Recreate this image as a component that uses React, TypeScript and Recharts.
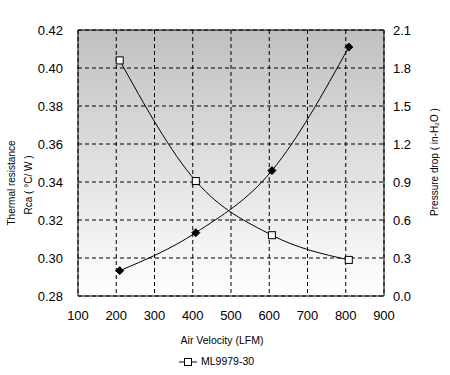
import React from "react";
import {
  LineChart,
  Line,
  XAxis,
  YAxis,
  CartesianGrid,
  ReferenceLine,
} from "recharts";

const velocity = [209, 408, 607, 808];
const resistance = [0.404, 0.3405, 0.312, 0.299];
const pressure = [0.2, 0.5, 0.99, 1.965];

const xTicks = [100, 200, 300, 400, 500, 600, 700, 800, 900];
const leftTicks = [0.28, 0.3, 0.32, 0.34, 0.36, 0.38, 0.4, 0.42];
const rightTicks = [0, 0.3, 0.6, 0.9, 1.2, 1.5, 1.8, 2.1];

const seriesName = "ML9979-30";

const data = velocity.map((v, i) => ({
  velocity: v,
  resistance: resistance[i],
  pressure: pressure[i],
}));

const FONT = "'Liberation Sans', Arial, sans-serif";

const SquareDot = (props: any) => {
  const { cx, cy } = props;
  if (cx == null || cy == null) return null;
  return (
    <rect x={cx - 3.5} y={cy - 3.5} width={7} height={7} fill="#fff" stroke="#000" strokeWidth={1} />
  );
};

const DiamondDot = (props: any) => {
  const { cx, cy } = props;
  if (cx == null || cy == null) return null;
  const r = 4;
  return (
    <polygon
      points={`${cx},${cy - r} ${cx + r},${cy} ${cx},${cy + r} ${cx - r},${cy}`}
      fill="#000"
      stroke="#000"
    />
  );
};

export default function App() {
  const tickStyle = { fontSize: 13, fill: "#000", fontFamily: FONT };
  return (
    <div style={{ position: "absolute", left: 0, top: 0, width: 450, height: 375, background: "#fff" }}>
      <LineChart
        width={450}
        height={375}
        data={data}
        margin={{ top: 30, right: 0, bottom: 49, left: 0 }}
      >
        <defs>
          <linearGradient id="plotBg" x1="0" y1="0" x2="0" y2="1">
            <stop offset="0%" stopColor="#c0c0c0" />
            <stop offset="100%" stopColor="#ffffff" />
          </linearGradient>
        </defs>
        <CartesianGrid
          yAxisId="left"
          fill="url(#plotBg)"
          fillOpacity={1}
          stroke="#000"
          strokeDasharray="4 3"
          horizontalValues={leftTicks}
          verticalValues={xTicks}
        />
        <XAxis
          dataKey="velocity"
          type="number"
          domain={[100, 900]}
          ticks={xTicks}
          tickLine={false}
          tickSize={0}
          tickMargin={15}
          height={30}
          axisLine={{ stroke: "#000" }}
          tick={tickStyle}
          allowDataOverflow
        />
        <YAxis
          yAxisId="left"
          orientation="left"
          type="number"
          domain={[0.28, 0.42]}
          ticks={leftTicks}
          tickFormatter={(v: number) => v.toFixed(2)}
          tickLine={false}
          tickSize={0}
          tickMargin={15}
          width={78}
          axisLine={{ stroke: "#000" }}
          tick={tickStyle}
          allowDataOverflow
        />
        <YAxis
          yAxisId="right"
          orientation="right"
          type="number"
          domain={[0, 2.1]}
          ticks={rightTicks}
          tickFormatter={(v: number) => v.toFixed(1)}
          tickLine={false}
          tickSize={0}
          tickMargin={9}
          width={66}
          axisLine={{ stroke: "#000" }}
          tick={tickStyle}
          allowDataOverflow
        />
        <ReferenceLine yAxisId="left" y={0.42} stroke="#000" />
        <Line
          yAxisId="left"
          dataKey="resistance"
          name={seriesName}
          type="monotone"
          stroke="#000"
          strokeWidth={1}
          dot={<SquareDot />}
          activeDot={false}
          isAnimationActive={false}
        />
        <Line
          yAxisId="right"
          dataKey="pressure"
          name="Pressure drop"
          type="monotone"
          stroke="#000"
          strokeWidth={1}
          dot={<DiamondDot />}
          activeDot={false}
          isAnimationActive={false}
        />
        {/* axis titles */}
        <text
          x={12}
          y={183}
          transform="rotate(-90 12 183)"
          textAnchor="middle"
          dominantBaseline="middle"
          fontSize={10}
          fontFamily={FONT}
          fill="#000"
        >
          Thermal resistance
        </text>
        <text
          x={29}
          y={185}
          transform="rotate(-90 29 185)"
          textAnchor="middle"
          dominantBaseline="middle"
          fontSize={10}
          fontFamily={FONT}
          fill="#000"
        >
          Rca ( °C/ W )
        </text>
        <text
          x={435}
          y={162}
          transform="rotate(-90 435 162)"
          textAnchor="middle"
          dominantBaseline="middle"
          fontSize={10}
          fontFamily={FONT}
          fill="#000"
        >
          Pressure drop ( in-H₂O )
        </text>
        <text
          x={222}
          y={341}
          textAnchor="middle"
          dominantBaseline="middle"
          fontSize={10.5}
          fontFamily={FONT}
          fill="#000"
        >
          Air Velocity (LFM)
        </text>
        {/* legend */}
        <g>
          <line x1={179} y1={362} x2={197} y2={362} stroke="#000" />
          <rect x={184.5} y={358.5} width={7} height={7} fill="#fff" stroke="#000" />
          <text x={201} y={362} dominantBaseline="middle" fontSize={10.5} fontFamily={FONT} fill="#000">
            {seriesName}
          </text>
        </g>
      </LineChart>
    </div>
  );
}
